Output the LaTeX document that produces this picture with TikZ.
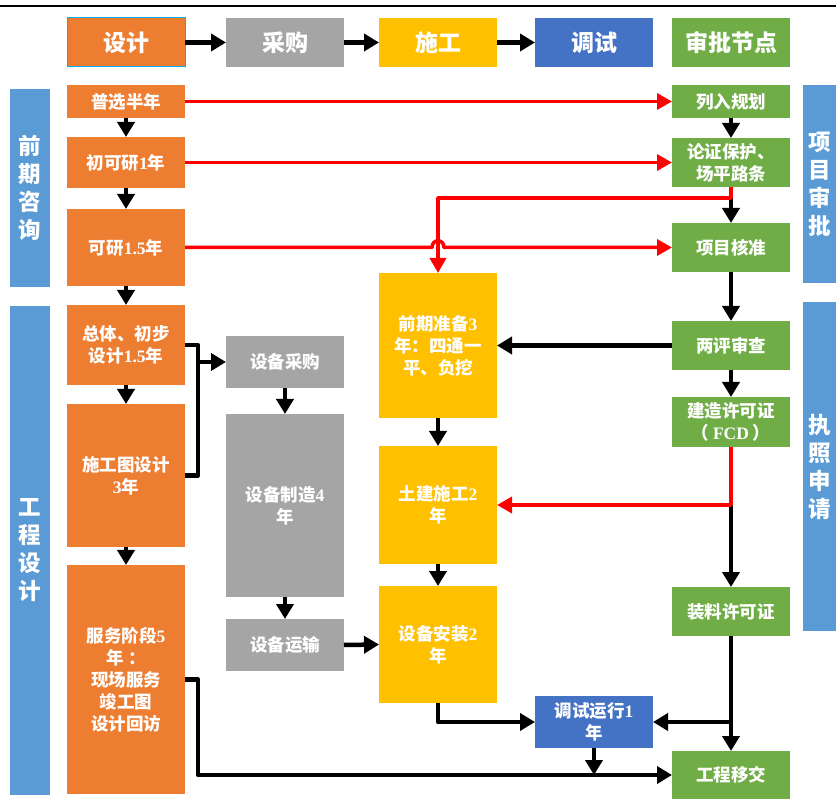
\documentclass[tikz,border=0pt]{standalone}
\usepackage{fontspec}
\newfontfamily\zh{Noto Sans CJK SC}
\newfontfamily\tnr{Liberation Serif}
\newcommand\nm[1]{{\tnr\bfseries #1}}
\usetikzlibrary{arrows.meta,calc}
\definecolor{cOrange}{HTML}{ED7D31}
\definecolor{cGrey}{HTML}{A5A5A5}
\definecolor{cGold}{HTML}{FFC000}
\definecolor{cBlue}{HTML}{4472C4}
\definecolor{cGreen}{HTML}{70AD47}
\definecolor{cBar}{HTML}{5B9BD5}
\definecolor{cRed}{HTML}{FF0000}
\definecolor{cCyan}{HTML}{00B0F0}
\tikzset{
  box/.style={inner sep=0pt, outer sep=0pt, text=white, align=center,
    font=\zh\bfseries\fontsize{17.5}{22}\selectfont},
  head/.style={box, font=\zh\bfseries\fontsize{23}{26}\selectfont},
  bar/.style={box, fill=cBar, font=\zh\bfseries\fontsize{22.5}{28}\selectfont},
  orange/.style={box, fill=cOrange},
  grey/.style={box, fill=cGrey},
  gold/.style={box, fill=cGold},
  blue/.style={box, fill=cBlue},
  green/.style={box, fill=cGreen},
  ar/.style={draw=black, line width=4.5pt, line join=round,
    -{Triangle[length=15pt,width=17pt]}},
  rar/.style={draw=cRed, line width=3.5pt, line join=round,
    -{Triangle[length=15pt,width=16pt]}},
  link/.style={draw=black, line width=4.5pt, line join=round},
}
% \blk{name}{x1}{y1}{x2}{y2}{style}{text}
\newcommand\blk[7]{\node[#6, minimum width={(#4-#2)*1pt}, minimum height={(#5-#3)*1pt}]
  (#1) at ({(#2+#4)/2},{(#3+#5)/2}) {#7};}
\begin{document}
\begin{tikzpicture}[x=1pt, y=-1pt]
\useasboundingbox (0,0) rectangle (836,799);
\draw[line width=1.5pt] (0,6) -- (836,6);

% legend row
\blk{h1}{67}{18}{185}{67}{head, fill=cOrange, draw=cCyan, line width=1pt}{设计}
\blk{h2}{226}{18}{344}{67}{head, fill=cGrey}{采购}
\blk{h3}{379}{18}{497}{67}{head, fill=cGold}{施工}
\blk{h4}{535}{18}{653}{67}{head, fill=cBlue}{调试}
\blk{h5}{672}{18}{790}{67}{head, fill=cGreen}{审批节点}
\draw[ar] (h1.east) -- (h2.west);
\draw[ar] (h2.east) -- (h3.west);
\draw[ar] (h3.east) -- (h4.west);

% side bars
\blk{s1}{10}{89}{50}{287}{bar}{前\\期\\咨\\询}
\blk{s2}{10}{306}{50}{795}{bar}{工\\程\\设\\计}
\blk{s3}{803}{85}{836}{283}{bar}{项\\目\\审\\批}
\blk{s4}{803}{302}{836}{631}{bar}{执\\照\\申\\请}

% design column
\blk{a1}{67}{85}{185}{118}{orange}{普选半年}
\blk{a2}{67}{137}{185}{188}{orange}{初可研\nm{1}年}
\blk{a3}{67}{209}{185}{286}{orange}{可研\nm{1.5}年}
\blk{a4}{67}{305}{185}{385}{orange}{总体、初步\\设计\nm{1.5}年}
\blk{a5}{67}{404}{185}{547}{orange}{施工图设计\\\nm{3}年}
\blk{a6}{67}{565}{185}{794}{orange}{服务阶段\nm{5}\\年 ：\\现场服务\\竣工图\\设计回访}

% procurement column
\blk{b1}{226}{336}{344}{388}{grey}{设备采购}
\blk{b2}{226}{414}{344}{597}{grey}{设备制造\nm{4}\\年}
\blk{b3}{226}{619}{344}{671}{grey}{设备运输}

% construction column
\blk{c1}{379}{273}{497}{418}{gold}{前期准备\nm{3}\\年：四通一\\平、负挖}
\blk{c2}{379}{446}{497}{564}{gold}{土建施工\nm{2}\\年}
\blk{c3}{379}{586}{497}{703}{gold}{设备安装\nm{2}\\年}

% commissioning
\blk{d1}{535}{696}{653}{748}{blue}{调试运行\nm{1}\\年}

% approval column
\blk{g1}{672}{85}{790}{118}{green}{列入规划}
\blk{g2}{672}{138}{790}{187}{green}{论证保护、\\场平路条}
\blk{g3}{672}{223}{790}{272}{green}{项目核准}
\blk{g4}{672}{321}{790}{370}{green}{两评审查}
\blk{g5}{672}{397}{790}{447}{green}{建造许可证\\（ \nm{FCD} ）}
\blk{g6}{672}{587}{790}{636}{green}{装料许可证}
\blk{g7}{672}{751}{790}{799}{green}{工程移交}

% design sequence
\draw[ar] (a1.south) -- (a2.north);
\draw[ar] (a2.south) -- (a3.north);
\draw[ar] (a3.south) -- (a4.north);
\draw[ar] (a4.south) -- (a5.north);
\draw[ar] (a5.south) -- (a6.north);

% design feeds procurement
\coordinate (br) at (198,362);
\draw[link] (a4.east) -| (br) |- (a5.east);
\draw[ar] (br) -- (b1.west);
\draw[ar] (b1.south) -- (b2.north);
\draw[ar] (b2.south) -- (b3.north);
\draw[ar] (b3.east) -- (c3.west);

% construction sequence
\draw[ar] (c1.south) -- (c2.north);
\draw[ar] (c2.south) -- (c3.north);
\draw[ar] (c3.south) |- (d1.west);

% approval sequence
\path (g2.south) ++(0,11) coordinate (j1);
\coordinate (j2) at (g5.south |- c2.east);
\coordinate (j3) at (g6.south |- d1.east);
\draw[ar] (g1.south) -- (g2.north);
\draw[ar] (j1) -- (g3.north);
\draw[ar] (g3.south) -- (g4.north);
\draw[ar] (g4.south) -- (g5.north);
\draw[ar] (g4.west) -- (c1.east);
\draw[ar] (j2) -- (g6.north);
\draw[ar] (g6.south) -- (g7.north);
\draw[ar] (j3) -- (d1.east);

% handover
\coordinate (bl) at (198,775);
\draw[ar] (a6.east) -| (bl) -- (g7.west);
\draw[ar] (d1.south) -- (d1.south |- bl);

% consulting results into approvals
\coordinate (X) at (a3.east -| c1.north);
\draw[rar] (a1.east) -- (g1.west);
\draw[rar] (a2.east) -- (g2.west);
\draw[rar] (a3.east) -- ($(X)+(-6,0)$) .. controls ($(X)+(-6,-9)$) and ($(X)+(6,-9)$) .. ($(X)+(6,0)$) -- (g3.west);
\draw[rar] (g2.south) -- (j1) -| (c1.north);
\draw[rar] (g5.south) |- (c2.east);
\end{tikzpicture}
\end{document}
